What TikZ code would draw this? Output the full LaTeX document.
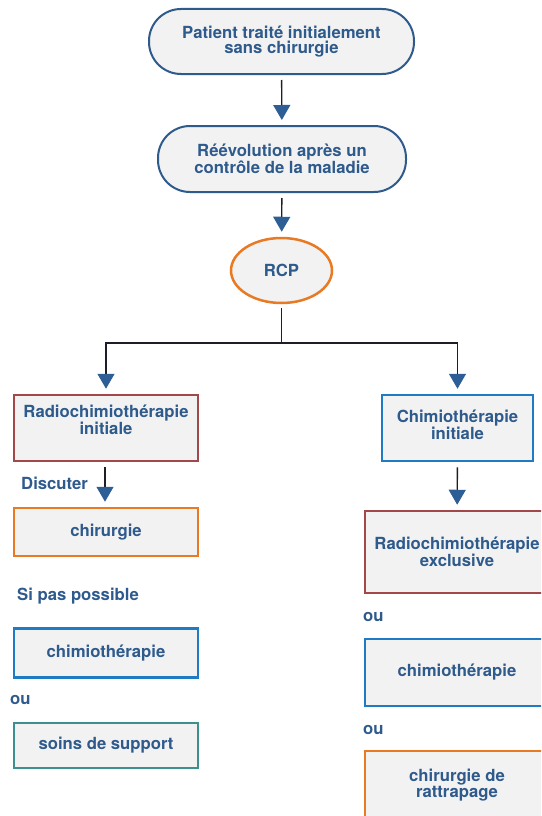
\documentclass[tikz,border=0pt]{standalone}
\usepackage{fontspec}
\setmainfont{TeX Gyre Heros}
\usetikzlibrary{arrows.meta,shapes.geometric}
\definecolor{textblue}{HTML}{2E5A8C}
\definecolor{headblue}{HTML}{2E5E96}
\definecolor{linedark}{HTML}{1E1E2A}
\definecolor{corange}{HTML}{E87A24}
\definecolor{cred}{HTML}{A3484A}
\definecolor{cblue}{HTML}{1F7BC4}
\definecolor{cteal}{HTML}{3B9090}
\definecolor{boxfill}{HTML}{F2F2F2}
\tikzset{
  txt/.style={text=textblue, font=\fontsize{16.7}{15.5}\selectfont\bfseries, align=center, inner sep=0pt},
  stadium/.style={txt, draw=textblue, fill=boxfill, line width=2pt, rounded corners=32pt},
  rbox/.style={txt, fill=boxfill, line width=2.5pt, minimum width=184pt},
  oval/.style={txt, ellipse, draw=corange, fill=boxfill, line width=2.5pt, minimum width=101pt, minimum height=65pt},
  arr/.style={draw=linedark, line width=1.4pt, shorten <=5pt, shorten >=5pt,
     -{Triangle[width=17pt,length=15pt,color=headblue]}},
  ln/.style={draw=linedark, line width=1.4pt}
}
\begin{document}
\begin{tikzpicture}[x=1pt,y=-1pt]
\useasboundingbox (0,0) rectangle (541,816);
\clip (0,0) rectangle (541,816);
% top
\node[stadium, minimum width=265pt, minimum height=65pt] (pat) at (281.5,41.5) {Patient traité initialement\\sans chirurgie};
\node[stadium, minimum width=248pt, minimum height=66pt] (ree) at (282,159) {Réévolution après un\\contrôle de la maladie};
\node[oval] (rcp) at (281.5,270.5) {RCP};
% left column
\node[rbox, draw=cred, minimum height=66pt] (rct) at (106,428) {};
\node[txt] (rctt) at (106,420) {Radiochimiothérapie\\initiale};
\node[txt, anchor=west] (disc) at (21,483) {Discuter};
\node[rbox, draw=corange, minimum height=48pt] (chir) at (106,532) {chirurgie};
\node[txt, anchor=west] (sipas) at (17,596) {Si pas possible};
\node[rbox, draw=cblue, minimum height=49pt] (chimL) at (106,653) {chimiothérapie};
\node[txt, anchor=west] (ouL) at (10,700) {ou};
\node[rbox, draw=cteal, minimum height=45pt] (soins) at (106,745.5) {soins de support};
% right column
\node[rbox, draw=cblue, minimum width=151pt, minimum height=66pt] (ci) at (457.5,428) {};
\node[txt] (cit) at (457.5,425) {Chimiothérapie\\initiale};
\node[rbox, draw=cred, minimum height=82pt] (rce) at (457,552) {Radiochimiothérapie\\exclusive};
\node[txt, anchor=west] (ouR1) at (363,617) {ou};
\node[rbox, draw=cblue, minimum height=67pt] (chimR) at (457,672.5) {chimiothérapie};
\node[txt, anchor=west] (ouR2) at (363,730) {ou};
\node[rbox, draw=corange, minimum height=80pt] (ratt) at (457,791) {};
\node[txt] (rattt) at (457,785) {chirurgie de\\rattrapage};
% connectors
\draw[arr] (pat) -- (ree);
\draw[arr] (ree) -- (rcp);
\coordinate (split) at (281.5,343);
\draw[ln, shorten <=4pt] (rcp) -- (split);
\draw[arr, shorten <=0pt] (split) -| (rct.north);
\draw[arr, shorten <=0pt] (split) -| (ci.north);
\draw[arr] (rct.south -| 105,0) -- (chir.north -| 105,0);
\draw[arr] (ci) -- (rce);
\end{tikzpicture}
\end{document}
